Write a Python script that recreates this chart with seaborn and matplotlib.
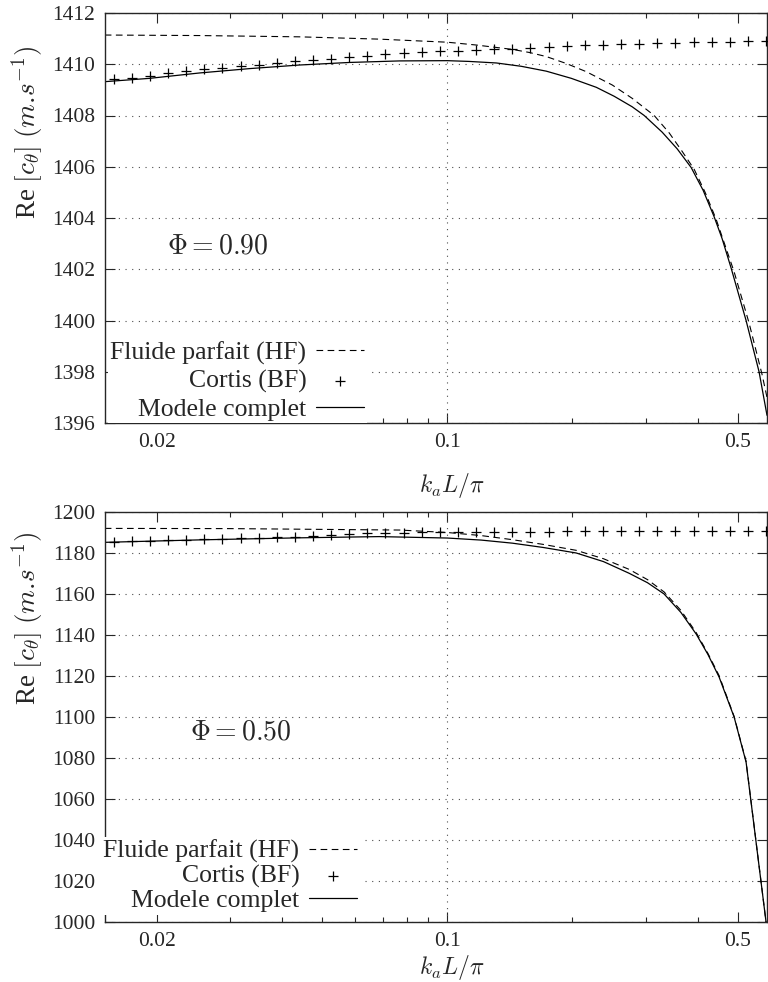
import numpy as np
import pandas as pd
import matplotlib
matplotlib.use('Agg')
import matplotlib.pyplot as plt
import matplotlib.ticker as mticker
import seaborn as sns

sns.set_style('ticks')
plt.rcParams['font.family'] = ['Liberation Serif', 'DejaVu Serif']
plt.rcParams['mathtext.fontset'] = 'cm'
plt.rcParams['xtick.direction'] = 'in'
plt.rcParams['ytick.direction'] = 'in'

# --- data (k_a L / pi) ---
x_cortis = [0.01574, 0.01740, 0.01924, 0.02127, 0.02352, 0.02600, 0.02875, 0.03178,
            0.03514, 0.03885, 0.04295, 0.04749, 0.05250, 0.05805, 0.06418, 0.07096,
            0.07845, 0.08673, 0.09589, 0.1060, 0.1172, 0.1296, 0.1433, 0.1584,
            0.1752, 0.1937, 0.2141, 0.2367, 0.2617, 0.2894, 0.3199, 0.3537,
            0.3911, 0.4324, 0.4780, 0.5285, 0.5843]

# Phi = 0.90
top_cortis = [1409.42, 1409.48, 1409.54, 1409.64, 1409.73, 1409.81, 1409.87, 1409.92,
              1409.97, 1410.04, 1410.11, 1410.16, 1410.21, 1410.27, 1410.33, 1410.40,
              1410.45, 1410.48, 1410.52, 1410.53, 1410.55, 1410.58, 1410.61, 1410.65,
              1410.67, 1410.71, 1410.74, 1410.76, 1410.79, 1410.80, 1410.82, 1410.84,
              1410.86, 1410.87, 1410.88, 1410.89, 1410.91]
top_full_x = [0.01498, 0.01921, 0.02533, 0.03342, 0.04406, 0.05811, 0.0767, 0.1, 0.1129,
              0.1312, 0.1506, 0.173, 0.1987, 0.2282, 0.252, 0.2784, 0.2976, 0.3287,
              0.3572, 0.386, 0.4125, 0.4384, 0.4581, 0.4816, 0.5233, 0.5623, 0.5876]
top_full_y = [1409.32, 1409.45, 1409.66, 1409.83, 1409.97, 1410.07, 1410.13, 1410.14,
              1410.11, 1410.05, 1409.92, 1409.73, 1409.45, 1409.10, 1408.75, 1408.34,
              1408.00, 1407.35, 1406.70, 1405.97, 1405.08, 1404.05, 1403.20, 1402.05,
              1400.00, 1398.00, 1396.30]
top_hf_x = [0.01498, 0.02533, 0.04406, 0.0686, 0.1, 0.1174, 0.1433, 0.1574, 0.173, 0.1932,
            0.2159, 0.2493, 0.2784, 0.3145, 0.3418, 0.3672, 0.3925, 0.4171, 0.4433,
            0.4897, 0.5321, 0.5716, 0.5876]
top_hf_y = [1411.14, 1411.12, 1411.07, 1410.98, 1410.86, 1410.75, 1410.58, 1410.46,
            1410.30, 1410.03, 1409.71, 1409.19, 1408.67, 1408.00, 1407.32, 1406.60,
            1405.90, 1405.00, 1403.95, 1401.90, 1399.90, 1397.90, 1397.00]

# Phi = 0.50
bot_cortis = [1185.2, 1185.7, 1186.0, 1186.3, 1186.5, 1186.7, 1186.8, 1187.2,
              1187.3, 1187.6, 1187.8, 1188.3, 1188.8, 1189.3, 1189.6, 1189.9,
              1190.0, 1190.1, 1190.1, 1190.2, 1190.2, 1190.3, 1190.3, 1190.4,
              1190.4, 1190.5, 1190.5, 1190.6, 1190.6, 1190.7, 1190.7, 1190.7,
              1190.8, 1190.8, 1190.8, 1190.9, 1190.9]
bot_full_x = [0.01498, 0.02533, 0.04406, 0.0686, 0.1, 0.1206, 0.1433, 0.17, 0.2042,
              0.2375, 0.2738, 0.3031, 0.3323, 0.3647, 0.3968, 0.4236, 0.4506, 0.4897,
              0.5233, 0.5845]
bot_full_y = [1185.2, 1186.4, 1187.4, 1188.0, 1187.3, 1186.3, 1184.8, 1182.7, 1180.0,
              1175.8, 1170.1, 1165.5, 1160.0, 1151.0, 1140.5, 1130.5, 1119.5, 1100.0,
              1078.0, 1000.0]
bot_hf_x = [0.01498, 0.03, 0.0767, 0.1, 0.1206, 0.1433, 0.17, 0.2042, 0.2375, 0.2738,
            0.3031, 0.3323, 0.3647, 0.3968, 0.4236, 0.4506, 0.4897, 0.5233, 0.5845]
bot_hf_y = [1192.0, 1191.9, 1191.2, 1190.0, 1188.5, 1186.5, 1184.2, 1181.3, 1177.2,
            1172.0, 1167.0, 1161.0, 1152.0, 1141.2, 1131.0, 1120.2, 1100.3, 1078.3,
            1000.0]

xmajor = [0.02, 0.1, 0.5]
xmajor_labels = ['0.02', '0.1', '0.5']
xminor = [0.03, 0.04, 0.05, 0.06, 0.07, 0.08, 0.09, 0.2, 0.3, 0.4]

W, H = 768, 982
fig = plt.figure(figsize=(W / 100, H / 100), dpi=100)


def px_axes(left, top, right, bottom):
    return fig.add_axes([left / W, 1 - bottom / H, (right - left) / W, (bottom - top) / H])


grid_kw = dict(color='0.3', linestyle=(0, (1, 5)), linewidth=0.8)
panels = [
    dict(box=(105, 13, 767, 423), cortis=top_cortis, fx=top_full_x, fy=top_full_y,
         hx=top_hf_x, hy=top_hf_y, ylim=(1396, 1412), yticks=np.arange(1396, 1413, 2),
         phi=r'$\Phi = 0.90$', phi_pos=(167, 247), ylab_y=132, xlab_y=485,
         leg=(367, 381), lspace=0.18),
    dict(box=(105, 512, 767, 922), cortis=bot_cortis, fx=bot_full_x, fy=bot_full_y,
         hx=bot_hf_x, hy=bot_hf_y, ylim=(1000, 1200), yticks=np.arange(1000, 1201, 20),
         phi=r'$\Phi = 0.50$', phi_pos=(190, 733), ylab_y=618, xlab_y=968,
         leg=(360, 876), lspace=0.06),
]

for p in panels:
    ax = px_axes(*p['box'])
    sns.lineplot(x=p['hx'], y=p['hy'], ax=ax, color='k', linewidth=0.8,
                 sort=False, estimator=None,
                 label='Fluide parfait (HF)').lines[-1].set_dashes((6, 4))
    sns.scatterplot(x=x_cortis, y=p['cortis'], ax=ax, marker='+', s=60,
                    color='k', linewidth=0.9, label='Cortis (BF)', zorder=3)
    sns.lineplot(x=p['fx'], y=p['fy'], ax=ax, color='k', linewidth=0.9,
                 sort=False, estimator=None, label='Modele complet')

    ax.set_xscale('log')
    ax.set_xlim(0.015, 0.5876)
    ax.set_ylim(*p['ylim'])
    ax.set_yticks(p['yticks'])
    ax.xaxis.set_major_locator(mticker.FixedLocator(xmajor))
    ax.xaxis.set_major_formatter(mticker.FixedFormatter(xmajor_labels))
    ax.xaxis.set_minor_locator(mticker.FixedLocator(xminor))
    ax.xaxis.set_minor_formatter(mticker.NullFormatter())
    ax.tick_params(which='both', top=True, right=True, labelsize=15.5, width=0.8)
    ax.tick_params(which='major', length=7, pad=7)
    ax.tick_params(which='minor', length=3.5)
    ax.yaxis.grid(True, **grid_kw)
    ax.axvline(0.1, **grid_kw)
    for s in ax.spines.values():
        s.set_linewidth(1.0)
    ax.set_xlabel('')
    ax.set_ylabel('')

    h, l = ax.get_legend_handles_labels()
    leg = ax.legend(h, l, loc='center right', markerfirst=False, fontsize=18.5,
                    bbox_to_anchor=(p['leg'][0] / W, 1 - p['leg'][1] / H),
                    bbox_transform=fig.transFigure, borderaxespad=0,
                    handlelength=1.9, handletextpad=0.36, labelspacing=p['lspace'],
                    borderpad=0.1, frameon=True, fancybox=False, framealpha=1,
                    scatterpoints=1)
    leg.get_frame().set_edgecolor('none')
    leg.get_frame().set_facecolor('white')

    fig.text(p['phi_pos'][0] / W, 1 - p['phi_pos'][1] / H, p['phi'],
             fontsize=20, ha='left', va='center')
    fig.text(28 / W, 1 - p['ylab_y'] / H, r'Re $[c_\theta]$ $(m.\!s^{-1})$',
             rotation=90, fontsize=19.5, ha='center', va='center')
    fig.text(452 / W, 1 - p['xlab_y'] / H, r'$k_aL/\pi$', fontsize=17,
             ha='center', va='center')

fig.savefig('out.png', dpi=100)
